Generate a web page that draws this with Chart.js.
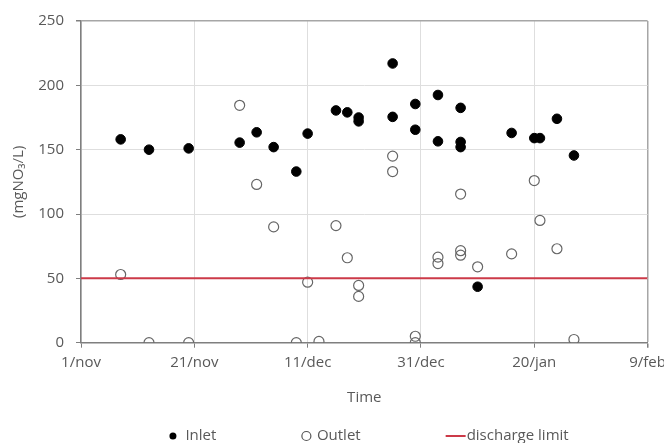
<!DOCTYPE html>
<html lang="en">
<head>
  <meta charset="utf-8" />
  <title>Nitrate inlet / outlet</title>
  <style>
html, body { margin: 0; padding: 0; background: #fff; }
#chartContainer { width: 664px; height: 443px; }
  </style>
</head>
<body>
  <div id="chartContainer">
    <canvas id="myChart"></canvas>
  </div>
  <script src="https://cdn.jsdelivr.net/npm/chart.js"></script>
  <script>
// x values are days counted from 1/nov
const xTickLabels = ['1/nov', '21/nov', '11/dec', '31/dec', '20/jan', '9/feb'];

const inletDays   = [7, 12, 19, 28, 31, 34, 38, 40, 45, 47, 49, 49, 55, 55, 59, 59, 63, 63, 67, 67, 67, 70, 76, 80, 81, 84, 87];
const inletValues = [158, 150, 151, 155.5, 163.5, 152, 133, 162.5, 180.5, 179, 175, 172, 217, 175.5, 185.5, 165.5, 192.5, 156.5, 182.5, 156, 152, 43.5, 163, 159, 159, 174, 145.5];

const outletDays   = [7, 12, 19, 28, 31, 34, 38, 40, 42, 45, 47, 49, 49, 55, 55, 59, 59, 63, 63, 67, 67, 67, 70, 76, 80, 81, 84, 87];
const outletValues = [53, 0, 0, 184.5, 123, 90, 0, 47, 1, 91, 66, 44.5, 36, 145, 133, 5, 0, 66.5, 61.5, 115.5, 71.5, 68, 59, 69, 126, 95, 73, 2.5];

const limitDays = [0, 100];
const limitValue = 50;

const TEXT = '#595959';
const FONT = '"Open Sans", sans-serif';

function toPoints(xs, ys) {
  return xs.map((x, i) => ({x: x, y: Array.isArray(ys) ? ys[i] : ys}));
}

// legend drawn under the axis title, wide gaps like the office chart
const bottomLegend = {
  id: 'bottomLegend',
  afterDraw(chart) {
    const ctx = chart.ctx;
    const y = 436;
    const gap = 85;
    ctx.save();
    ctx.font = '15px ' + FONT;
    ctx.textBaseline = 'middle';
    const items = [
      {text: 'Inlet', mark: 10, pad: 7.5},
      {text: 'Outlet', mark: 10, pad: 5.5},
      {text: 'discharge limit', mark: 20, pad: 1}
    ];
    let total = 0;
    items.forEach(it => { it.w = it.mark + it.pad + ctx.measureText(it.text).width; total += it.w; });
    total += gap * (items.length - 1);
    let x = (chart.chartArea.left + chart.chartArea.right) / 2 + 4 - total / 2;
    items.forEach((it, i) => {
      if (i === 0) {
        ctx.beginPath(); ctx.arc(x + 5, y, 3.5, 0, 2 * Math.PI);
        ctx.fillStyle = '#000'; ctx.fill();
      } else if (i === 1) {
        ctx.beginPath(); ctx.arc(x + 5, y, 4.5, 0, 2 * Math.PI);
        ctx.strokeStyle = '#555'; ctx.lineWidth = 1.2; ctx.stroke();
      } else {
        ctx.beginPath(); ctx.moveTo(x, y); ctx.lineTo(x + it.mark, y);
        ctx.strokeStyle = '#cc3a48'; ctx.lineWidth = 2; ctx.stroke();
      }
      ctx.fillStyle = TEXT;
      ctx.fillText(it.text, x + it.mark + it.pad, y);
      x += it.w + gap;
    });
    ctx.restore();
  }
};

const config = {
  type: 'scatter',
  data: {
    datasets: [
      {
        label: 'discharge limit',
        data: toPoints(limitDays, limitValue),
        showLine: true,
        borderColor: '#cc3a48',
        borderWidth: 2,
        pointRadius: 0,
        order: 0
      },
      {
        label: 'Outlet',
        data: toPoints(outletDays, outletValues),
        pointRadius: 5,
        pointBackgroundColor: 'rgba(255,255,255,0)',
        pointBorderColor: '#666',
        pointBorderWidth: 1.2,
        order: 1
      },
      {
        label: 'Inlet',
        data: toPoints(inletDays, inletValues),
        pointRadius: 4.8,
        pointBackgroundColor: '#000',
        pointBorderColor: '#000',
        pointBorderWidth: 1,
        order: 2
      }
    ]
  },
  options: {
    responsive: true,
    maintainAspectRatio: false,
    animation: false,
    layout: { padding: { top: 19, right: 16.4, left: 0, bottom: 0 } },
    plugins: {
      legend: { display: false },
      tooltip: { enabled: false }
    },
    scales: {
      x: {
        type: 'linear',
        min: 0,
        max: 100,
        afterFit: function(s) { s.height = 100.3; s.paddingRight = 0; },
        ticks: {
          stepSize: 20,
          padding: 6,
          color: TEXT,
          font: { family: FONT, size: 15 },
          maxRotation: 0,
          callback: function(value) { return xTickLabels[value / 20]; }
        },
        grid: {
          color: ctx => ctx.tick && ctx.tick.value === 100 ? '#a6a6a6' : '#dedede',
          lineWidth: ctx => ctx.tick && ctx.tick.value === 100 ? 1.5 : 1,
          tickColor: '#7f7f7f',
          tickLength: 5
        },
        border: { color: '#7f7f7f', width: 1.5 },
        title: {
          display: true,
          text: 'Time',
          color: TEXT,
          font: { family: FONT, size: 15 },
          padding: { top: 0, bottom: 36.6 }
        }
      },
      y: {
        min: 0,
        max: 250,
        afterFit: function(s) { s.width = 81; },
        ticks: {
          stepSize: 50,
          padding: 12,
          color: TEXT,
          font: { family: FONT, size: 15 }
        },
        grid: {
          color: ctx => ctx.tick && ctx.tick.value === 250 ? '#a6a6a6' : '#dedede',
          lineWidth: ctx => ctx.tick && ctx.tick.value === 250 ? 1.5 : 1,
          tickColor: '#7f7f7f',
          tickLength: 5
        },
        border: { color: '#7f7f7f', width: 1.5 },
        title: {
          display: true,
          text: '(mgNO₃/L)',
          color: TEXT,
          font: { family: FONT, size: 15 },
          padding: { top: 10, bottom: 0 }
        }
      }
    }
  },
  plugins: [bottomLegend]
};

const chart = new Chart(document.getElementById('myChart'), config);
  </script>
</body>
</html>
